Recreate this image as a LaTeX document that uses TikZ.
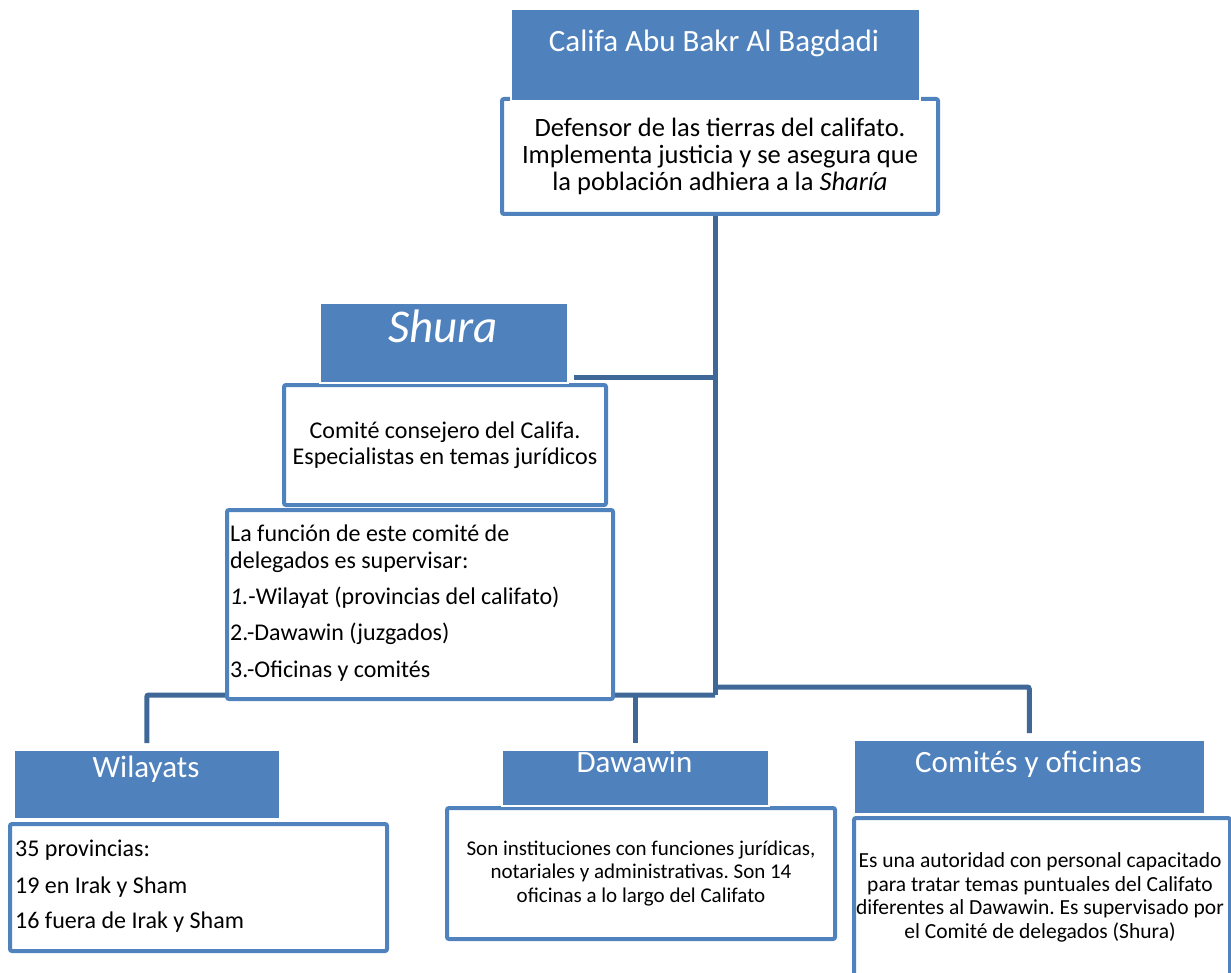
\documentclass[tikz,border=0pt]{standalone}
\usepackage{fontspec}
\setmainfont{Carlito}
\usetikzlibrary{backgrounds}
\definecolor{hblue}{HTML}{4F81BD}
\definecolor{bblue}{HTML}{5082BE}
\definecolor{cblue}{HTML}{3F6899}
\frenchspacing
\begin{document}
\begin{tikzpicture}[x=1pt,y=-1pt,
  hdr/.style={fill=hblue, draw=white, line width=1.5pt, anchor=north west, inner sep=0pt},
  descbox/.style={fill=white, draw=bblue, line width=4pt, rounded corners=2pt, anchor=north west, inner sep=0pt, align=center},
  htext/.style={text=white, font=\fontsize{31}{37}\selectfont, anchor=base, inner sep=0pt},
  conn/.style={draw=cblue, line width=5pt, rounded corners=2pt},
]
\useasboundingbox (0,0) rectangle (1231,973);
\clip (0,0) rectangle (1231,973);

% Califa
\node[descbox, minimum width=436pt, minimum height=115pt, font=\fontsize{26.5}{27}\selectfont] (califaD) at (500,97)
  {Defensor de las tierras del califato.\\ Implementa justicia y se asegura que\\ la población adhiera a la \textit{Sharía}};
\node[hdr, minimum width=409pt, minimum height=91pt] (califaH) at (510,9) {};
\node[htext] (califaT) at (714,52) {Califa Abu Bakr Al Bagdadi};

% Shura
\node[descbox, minimum width=322pt, minimum height=120pt, font=\fontsize{24}{26}\selectfont] (shuraD) at (282,383)
  {Comité consejero del Califa.\\ Especialistas en temas jurídicos};
\node[hdr, minimum width=248pt, minimum height=79pt] (shuraH) at (319,303) {};
\node[htext, font=\fontsize{47}{52}\selectfont\itshape] (shuraT) at (443,343) {Shura};

% Delegados
\node[descbox, minimum width=386pt, minimum height=189pt] (delD) at (225,508) {};
\node[anchor=base west, inner sep=0pt, align=left, font=\fontsize{24}{27}\selectfont] (delT) at (230,677)
  {La función de este comité de\\ delegados es supervisar:\\[9pt] \textit{1.}-Wilayat (provincias del califato)\\[9pt] 2.-Dawawin (juzgados)\\[10pt] 3.-Oficinas y comités};

% Wilayats
\node[hdr, minimum width=266pt, minimum height=69pt] (wilH) at (13,749) {};
\node[htext] (wilT) at (146,777) {Wilayats};
\node[descbox, minimum width=377pt, minimum height=127pt] (wilD) at (8,822) {};
\node[anchor=base west, inner sep=0pt, align=left, font=\fontsize{24}{27}\selectfont] (wilTx) at (15,928)
  {35 provincias:\\[10pt] 19 en Irak y Sham\\[8pt] 16 fuera de Irak y Sham};

% Dawawin
\node[descbox, minimum width=388pt, minimum height=131pt, font=\fontsize{21}{23.5}\selectfont] (dawD) at (445,806)
  {Son instituciones con funciones jurídicas,\\ notariales y administrativas. Son 14\\ oficinas a lo largo del Califato};
\node[hdr, minimum width=267pt, minimum height=56pt] (dawH) at (501,749) {};
\node[htext] (dawT) at (634.5,772) {Dawawin};

% Comites
\node[descbox, minimum width=376pt, minimum height=180pt] (comD) at (852,816) {};
\node[hdr, minimum width=351pt, minimum height=74pt] (comH) at (853,739) {};
\node[htext] (comT) at (1028.5,772) {Comités y oficinas};
\node[anchor=base, inner sep=0pt, align=center, font=\fontsize{21.5}{23.5}\selectfont] (comTx) at (1040,938)
  {Es una autoridad con personal capacitado\\ para tratar temas puntuales del Califato\\ diferentes al Dawawin. Es supervisado por\\ el Comité de delegados (Shura)};

% connectors
\begin{scope}[on background layer]
\coordinate (j1) at (715,377);
\coordinate (j2) at (715,695);
\coordinate (j3) at (715,687);
\draw[conn] (j1 |- califaD.south) -- (j2);
\draw[conn, shorten <=5pt] (shuraH.east |- j1) -- (j1);
\draw[conn, shorten <=6pt] (wilH.north) |- (j2);
\draw[conn, shorten <=6pt] (dawH.north) -- (dawH.north |- j2);
\draw[conn, shorten <=6pt] (comH.north) |- (j3);
\end{scope}
\end{tikzpicture}
\end{document}
